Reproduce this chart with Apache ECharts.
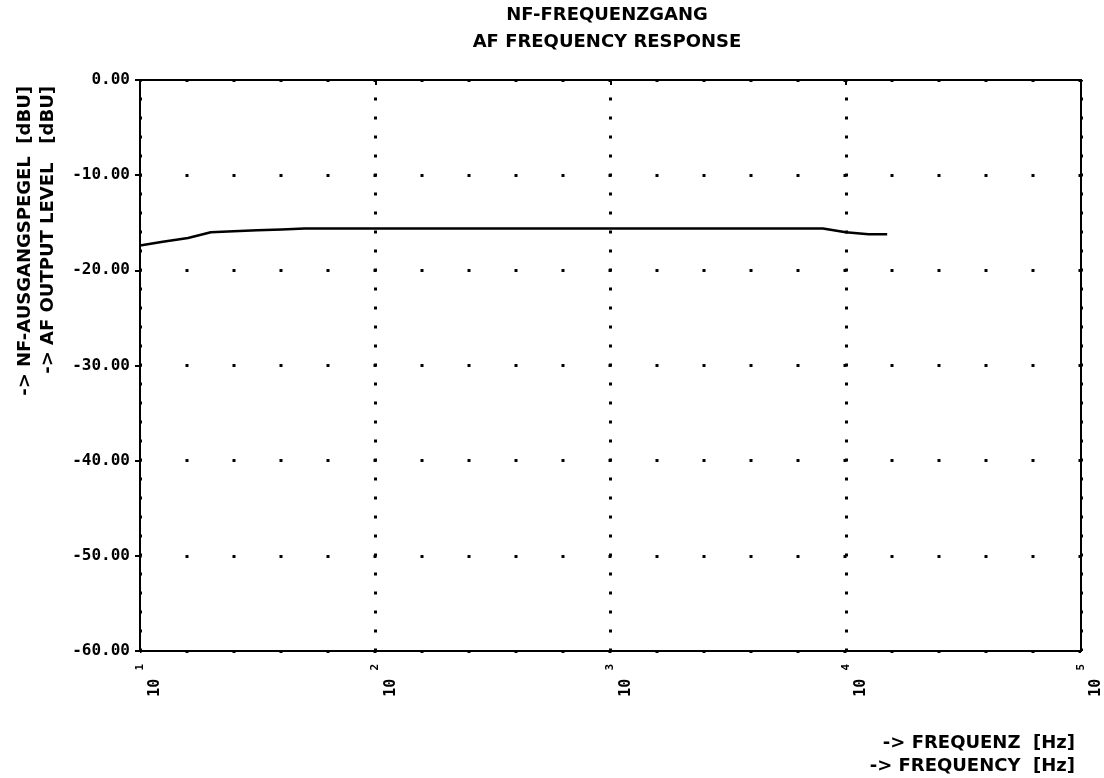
<!DOCTYPE html>
<html>
<head>
<meta charset="utf-8">
<title>NF-Frequenzgang</title>
<script src="https://cdn.jsdelivr.net/npm/echarts@6/dist/echarts.min.js"></script>
<style>
  html, body { margin: 0; padding: 0; background: #fff; }
  #chart { width: 1104px; height: 778px; }
</style>
</head>
<body>
<div id="chart"></div>
<script>
const freqHz = [10, 12.5, 16, 20, 25, 31.5, 40, 50, 100, 1000, 5000, 8000, 10000, 12500, 15000];
const levelDbu = [-17.4, -17.0, -16.6, -16.0, -15.9, -15.8, -15.7, -15.6, -15.6, -15.6, -15.6, -15.6, -16.0, -16.2, -16.2];

// tick labels
const xTickExps = ['1', '2', '3', '4', '5'];   // 10^1 .. 10^5
const yTicks = [0, -10, -20, -30, -40, -50, -60];

const titleLines = ['NF-FREQUENZGANG', 'AF FREQUENCY RESPONSE'];
const yNameLines = ['-> NF-AUSGANGSPEGEL  [dBU]', '-> AF OUTPUT LEVEL   [dBU]'];
const xNameLines = ['-> FREQUENZ  [Hz]', '-> FREQUENCY  [Hz]'];

const chart = echarts.init(document.getElementById('chart'));

const boldFont = { fontFamily: 'DejaVu Sans', fontWeight: 'bold', fontSize: 18, fill: '#000' };
const monoFont = 'DejaVu Sans Mono';

const option = {
  animation: false,
  backgroundColor: '#fff',
  grid: {
    left: 140, right: 23, top: 80, bottom: 127,
    show: true, borderColor: '#000', borderWidth: 2
  },
  xAxis: {
    type: 'log',
    logBase: 10,
    min: 10,
    max: 100000,
    axisLine: { show: true, lineStyle: { color: '#000', width: 2 } },
    axisTick: { show: true, length: 5, lineStyle: { color: '#000', width: 2 } },
    minorTick: { show: false },
    splitLine: { show: true, lineStyle: { color: '#000', width: 3, type: [3, 16], dashOffset: 1.5 } },
    axisLabel: {
      rotate: 90,
      margin: 13,
      formatter: v => {
        const e = Math.round(Math.log10(v));
        return '{b|10}{e|' + xTickExps[e - 1] + '}';
      },
      rich: {
        b: { fontFamily: monoFont, fontWeight: 'bold', fontSize: 15, lineHeight: 15, verticalAlign: 'bottom', color: '#000' },
        e: { fontFamily: monoFont, fontWeight: 'bold', fontSize: 11, lineHeight: 46, verticalAlign: 'middle', color: '#000', padding: [0, 0, 0, 8] }
      }
    }
  },
  yAxis: {
    type: 'value',
    min: -60,
    max: 0,
    interval: 10,
    axisLine: { show: true, lineStyle: { color: '#000', width: 2 } },
    axisTick: { show: true, length: 5, lineStyle: { color: '#000', width: 2 } },
    splitLine: { show: true, lineStyle: { color: '#000', width: 3, type: [3, 44], dashOffset: 1.5 } },
    axisLabel: {
      margin: 10,
      color: '#000',
      fontFamily: monoFont,
      fontWeight: 'bold',
      fontSize: 16,
      formatter: v => yTicks.includes(v) ? v.toFixed(2) : ''
    }
  },
  series: [{
    type: 'line',
    data: freqHz.map((f, i) => [f, levelDbu[i]]),
    showSymbol: false,
    lineStyle: { color: '#000', width: 2.5 }
  }],
  graphic: [
    { type: 'text', x: 607, y: 15, style: Object.assign({ text: titleLines[0], align: 'center', verticalAlign: 'middle' }, boldFont) },
    { type: 'text', x: 607, y: 42, style: Object.assign({ text: titleLines[1], align: 'center', verticalAlign: 'middle' }, boldFont) },
    { type: 'text', x: 25, y: 86, rotation: Math.PI / 2, style: Object.assign({ text: yNameLines[0], align: 'right', verticalAlign: 'middle' }, boldFont) },
    { type: 'text', x: 48, y: 86, rotation: Math.PI / 2, style: Object.assign({ text: yNameLines[1], align: 'right', verticalAlign: 'middle' }, boldFont) },
    { type: 'text', x: 1075, y: 743, style: Object.assign({ text: xNameLines[0], align: 'right', verticalAlign: 'middle' }, boldFont) },
    { type: 'text', x: 1075, y: 766, style: Object.assign({ text: xNameLines[1], align: 'right', verticalAlign: 'middle' }, boldFont) }
  ]
};

chart.setOption(option);
window.addEventListener('resize', () => chart.resize());
</script>
</body>
</html>
